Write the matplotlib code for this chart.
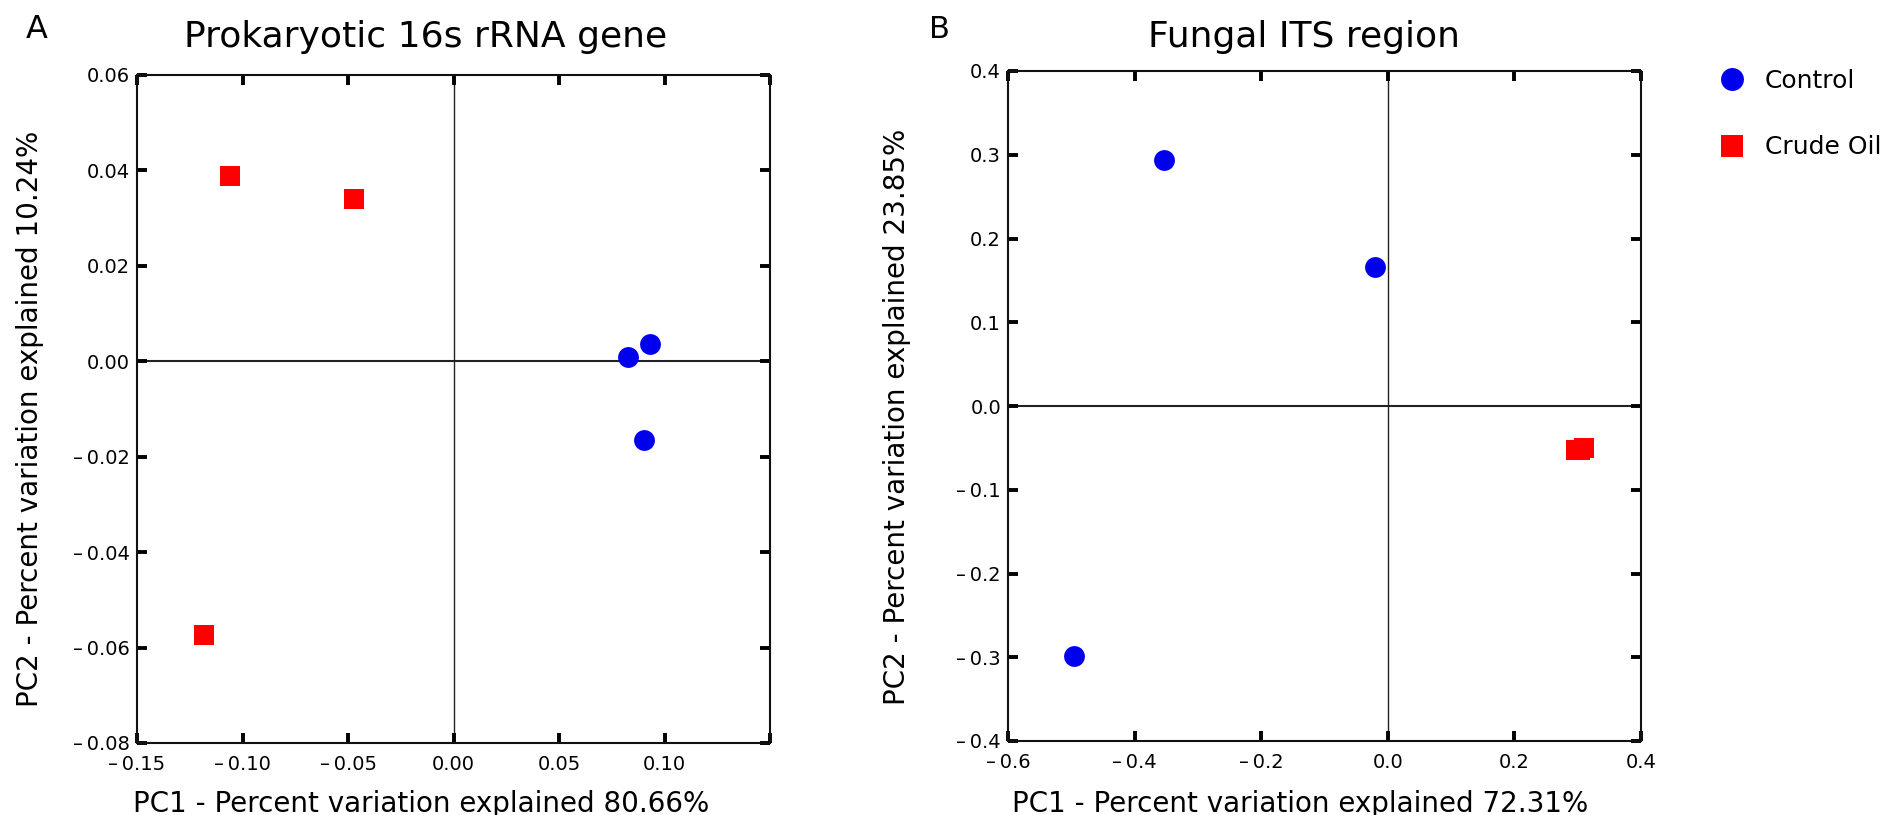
import matplotlib
matplotlib.use("Agg")
import matplotlib.pyplot as plt
from matplotlib.lines import Line2D

# ---- PCoA scores -------------------------------------------------------
groups = ["Control", "Crude Oil"]

# Prokaryotic 16S rRNA gene
pro_control_pc1 = [0.0825, 0.0930, 0.0905]
pro_control_pc2 = [0.0008, 0.0036, -0.0165]
pro_oil_pc1 = [-0.1060, -0.0472, -0.1182]
pro_oil_pc2 = [0.0389, 0.0341, -0.0574]

# Fungal ITS region
fun_control_pc1 = [-0.354, -0.021, -0.496]
fun_control_pc2 = [0.2936, 0.1657, -0.2984]
fun_oil_pc1 = [0.298, 0.303, 0.310]
fun_oil_pc2 = [-0.053, -0.052, -0.050]

# ---- axis ticks / labels ----------------------------------------------
DASH = "\u2013\u2009"
pro_xticks = [-0.15, -0.10, -0.05, 0.00, 0.05, 0.10, 0.15]
pro_xticklabels = [DASH + "0.15", DASH + "0.10", DASH + "0.05", "0.00", "0.05", "0.10", ""]
pro_yticks = [-0.08, -0.06, -0.04, -0.02, 0.00, 0.02, 0.04, 0.06]
pro_yticklabels = [DASH + "0.08", DASH + "0.06", DASH + "0.04", DASH + "0.02",
                   "0.00", "0.02", "0.04", "0.06"]

fun_xticks = [-0.6, -0.4, -0.2, 0.0, 0.2, 0.4]
fun_xticklabels = [DASH + "0.6", DASH + "0.4", DASH + "0.2", "0.0", "0.2", "0.4"]
fun_yticks = [-0.4, -0.3, -0.2, -0.1, 0.0, 0.1, 0.2, 0.3, 0.4]
fun_yticklabels = [DASH + "0.4", DASH + "0.3", DASH + "0.2", DASH + "0.1",
                   "0.0", "0.1", "0.2", "0.3", "0.4"]

pro_title = "Prokaryotic 16s rRNA gene"
fun_title = "Fungal ITS region"
pro_xlabel = "PC1 - Percent variation explained 80.66%"
pro_ylabel = "PC2 - Percent variation explained 10.24%"
fun_xlabel = "PC1 - Percent variation explained 72.31%"
fun_ylabel = "PC2 - Percent variation explained 23.85%"

BLUE = "#0000ee"
RED = "#ff0000"
MS = 15

plt.rcParams["font.family"] = ["DejaVu Sans"]

W, H = 1885, 815
fig = plt.figure(figsize=(W / 100, H / 100), dpi=100)
fig.patch.set_facecolor("white")


def px(x0, x1, ytop, ybot):
    return [x0 / W, 1 - ybot / H, (x1 - x0) / W, (ybot - ytop) / H]


def style_axes(ax, xticks, xlabels, yticks, ylabels, xlim, ylim):
    ax.set_xlim(*xlim)
    ax.set_ylim(*ylim)
    ax.set_xticks(xticks)
    ax.set_xticklabels(xlabels)
    ax.set_yticks(yticks)
    ax.set_yticklabels(ylabels)
    ax.tick_params(direction="in", top=True, right=True, length=7.5, width=2.8,
                   color="black", labelsize=14)
    ax.tick_params(axis="x", pad=9)
    ax.tick_params(axis="y", pad=5)
    for s in ax.spines.values():
        s.set_linewidth(1.5)
        s.set_color("#111111")
    ax.axhline(0, color="#222222", lw=1.5, zorder=1)
    ax.axvline(0, color="#222222", lw=1.0, zorder=1)


# ---- panel A -----------------------------------------------------------
axA = fig.add_axes(px(137, 770, 75, 743))
style_axes(axA, pro_xticks, pro_xticklabels, pro_yticks, pro_yticklabels,
           (-0.15, 0.15), (-0.08, 0.06))
axA.plot(pro_control_pc1, pro_control_pc2, "o", color=BLUE, ms=MS, mew=0, zorder=3)
axA.plot(pro_oil_pc1, pro_oil_pc2, "s", color=RED, ms=MS, mew=0, zorder=3)

# ---- panel B -----------------------------------------------------------
axB = fig.add_axes(px(1008, 1641, 71, 741))
style_axes(axB, fun_xticks, fun_xticklabels, fun_yticks, fun_yticklabels,
           (-0.6, 0.4), (-0.4, 0.4))
axB.plot(fun_control_pc1, fun_control_pc2, "o", color=BLUE, ms=MS, mew=0, zorder=3)
axB.plot(fun_oil_pc1, fun_oil_pc2, "s", color=RED, ms=MS, mew=0, zorder=3)

# ---- titles, panel letters and axis labels ----------------------------
fig.text(425.6 / W, 1 - 47 / H, pro_title, fontsize=26, ha="center", va="baseline")
fig.text(1303.5 / W, 1 - 47 / H, fun_title, fontsize=26, ha="center", va="baseline")
fig.text(26 / W, 1 - 38 / H, "A", fontsize=23, ha="left", va="baseline")
fig.text(929 / W, 1 - 38 / H, "B", fontsize=22, ha="left", va="baseline")

fig.text(421.5 / W, 1 - 812 / H, pro_xlabel, fontsize=20, ha="center", va="baseline")
fig.text(1300 / W, 1 - 812 / H, fun_xlabel, fontsize=20, ha="center", va="baseline")
fig.text(30 / W, 1 - 419 / H, pro_ylabel, fontsize=20, rotation=90,
         ha="center", va="center")
fig.text(897 / W, 1 - 417 / H, fun_ylabel, fontsize=20, rotation=90,
         ha="center", va="center")

# ---- legend ------------------------------------------------------------
handles = [Line2D([], [], ls="none", marker="o", color=BLUE, ms=MS, mew=0),
           Line2D([], [], ls="none", marker="s", color=RED, ms=MS, mew=0)]
fig.legend(handles, groups, loc="upper left",
           bbox_to_anchor=(1719.5 / W, 1 - 68.5 / H),
           frameon=False, fontsize=18, handlelength=1.0, handletextpad=0.8,
           labelspacing=1.72, borderpad=0, borderaxespad=0, markerscale=1.1)

fig.savefig("out.png", dpi=100, facecolor="white")
